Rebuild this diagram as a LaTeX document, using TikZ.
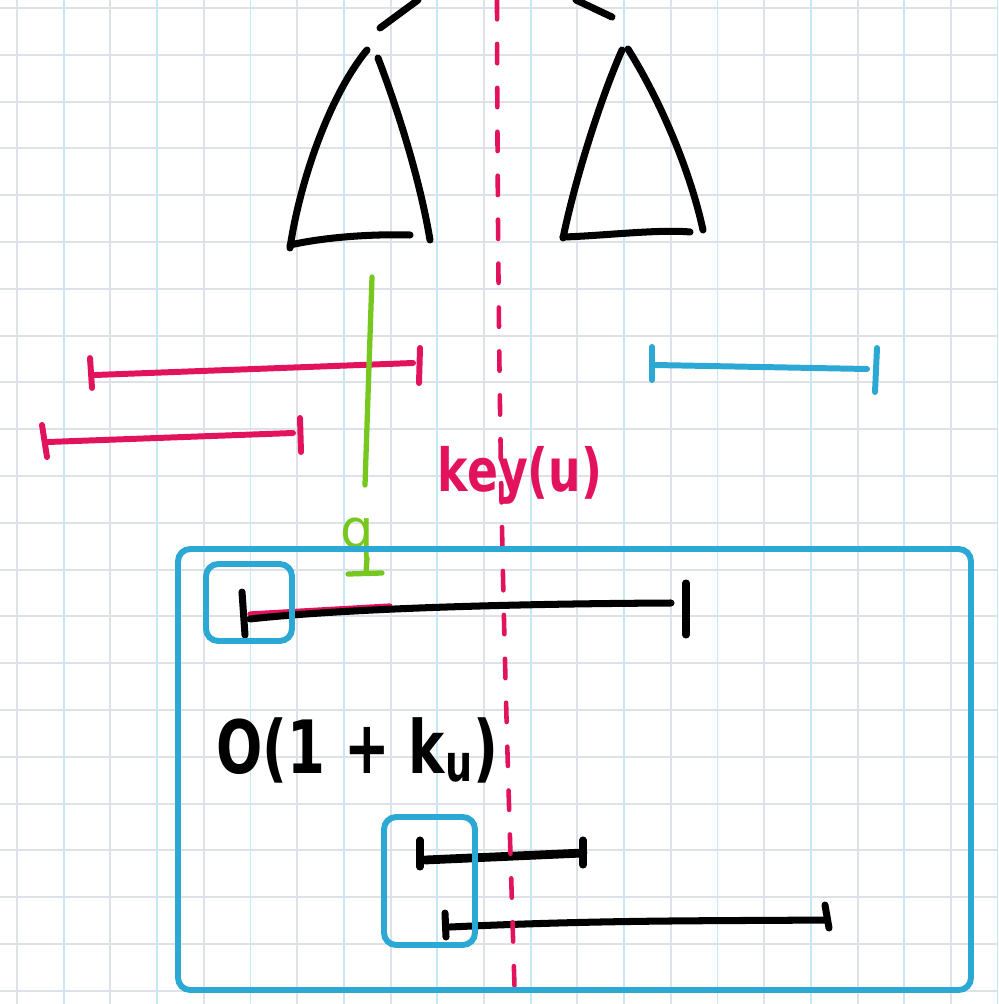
\documentclass[tikz,border=0pt]{standalone}
\usepackage{fontspec}
\setmainfont{DejaVu Sans}
\definecolor{keyred}{RGB}{226,18,92}
\definecolor{qgreen}{RGB}{118,200,30}
\definecolor{boxblue}{RGB}{44,168,212}
\definecolor{gridcyan}{RGB}{196,232,246}
\definecolor{gridgrey}{RGB}{222,226,232}

\begin{document}
\begin{tikzpicture}[x=0.02cm, y=-0.02cm,
    pen/.style={line width=4pt, line cap=round, line join=round},
    blackpen/.style={pen, black},
    redpen/.style={pen, keyred, line width=3.4pt},
    bluepen/.style={pen, boxblue, line width=3.4pt},
    greenpen/.style={pen, qgreen, line width=3pt},
    frame/.style={boxblue, line width=3.4pt, rounded corners=7pt},
    gridline/.style={line width=1.1pt},
  ]
  \useasboundingbox (0,0) rectangle (998,1004);
  \clip (0,0) rectangle (998,1004);
  \fill[white] (0,0) rectangle (998,1004);

  % paper grid
  \foreach \i in {0,...,21}
    \draw[gridline, gridgrey] (0,8+46.8*\i) -- (998,8+46.8*\i);
  \foreach \i in {0,2,...,20}
    \draw[gridline, gridgrey] (17+46.7*\i,0) -- (17+46.7*\i,1004);
  \foreach \i in {1,3,...,21}
    \draw[gridline, gridcyan] (17+46.7*\i,0) -- (17+46.7*\i,1004);

  % tree: edges to the root and the two subtrees
  \draw[blackpen] (380,28) -- (418,0);
  \draw[blackpen] (576,0) -- (612,17);
  \draw[blackpen] (367,50) .. controls (330,95) and (300,180) .. (290,248);
  \draw[blackpen] (378,58) .. controls (398,110) and (420,180) .. (430,240);
  \draw[blackpen] (290,245) .. controls (330,236) and (380,234) .. (410,235);
  \draw[blackpen] (622,50) .. controls (600,100) and (575,180) .. (563,238);
  \draw[blackpen] (628,49) .. controls (660,100) and (690,170) .. (703,230);
  \draw[blackpen] (563,237) .. controls (600,236) and (660,229) .. (690,232);

  % intervals left of key(u)
  \draw[redpen] (95,375) -- (413,363);
  \draw[redpen] (90,358) -- (92,388);
  \draw[redpen] (420,348) -- (419,383);
  \draw[redpen] (48,442) -- (293,433);
  \draw[redpen] (42,425) -- (47,457);
  \draw[redpen] (300,418) -- (301,452);

  % interval right of key(u)
  \draw[bluepen] (655,365) -- (867,369);
  \draw[bluepen] (652,347) -- (652,380);
  \draw[bluepen] (877,348) -- (875,392);

  % query line
  \draw[greenpen] (372,277) -- (365,485);
  \node[text=qgreen, font=\fontsize{30}{32}\selectfont, anchor=base, inner sep=0pt] (q) at (357,547) {q};
  \draw[greenpen] (367,558) -- (366,573);
  \draw[greenpen] (348,574) -- (382,573);

  \node[text=keyred, font=\bfseries\fontsize{26}{28}\selectfont, yscale=1.3] (key) at (520,475) {key(u)};

  % intervals crossing key(u)
  \draw[redpen, line width=3pt] (250,614) -- (390,606);
  \draw[blackpen] (250,619) .. controls (330,610) and (480,604) .. (671,603);
  \draw[blackpen] (242,592) -- (245,635);
  \draw[blackpen] (686,583) -- (686,635);
  \draw[blackpen, line width=5pt] (425,860) -- (583,853);
  \draw[blackpen] (420,840) -- (420,867);
  \draw[blackpen] (583,840) -- (583,865);
  \draw[blackpen] (450,927) .. controls (600,920) and (700,921) .. (825,920);
  \draw[blackpen] (445,913) -- (446,937);
  \draw[blackpen] (825,905) -- (829,928);

  \node[font=\bfseries\fontsize{31}{34}\selectfont, anchor=west, yscale=1.35] (cost) at (210,750) {O(1 + k\textsubscript{u})};

  % key(u) split line
  \draw[keyred, line width=2.6pt, line cap=round, dash pattern=on 11pt off 14pt]
    (497,0) .. controls (498,500) and (506,700) .. (515,1004);

  \draw[frame] (178,549) rectangle (971,990);
  \draw[frame] (206,564) rectangle (292,641);
  \draw[frame] (384,817) rectangle (475,945);
\end{tikzpicture}
\end{document}
